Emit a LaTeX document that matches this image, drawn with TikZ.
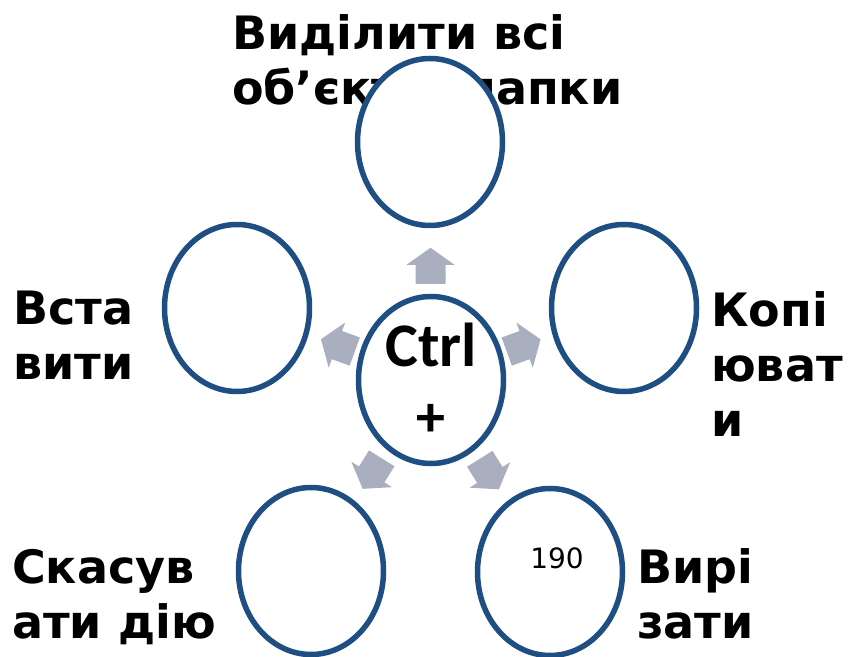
\documentclass[tikz,border=0pt]{standalone}
\usepackage{fontspec}
\setmainfont{DejaVu Sans}
\newfontfamily\keyfont{Carlito}
\usepackage{xcolor}
\definecolor{ringblue}{HTML}{1F4E82}
\definecolor{arrowgrey}{HTML}{A9AFBE}
\usetikzlibrary{shapes.geometric,calc}

\begin{document}
\begin{tikzpicture}[
  x=1pt, y=1pt,
  ring/.style={ellipse, draw=ringblue, line width=5.5pt, fill=white, inner sep=0pt, minimum width=145pt, minimum height=167pt},
  lbl/.style={font=\fontsize{46}{55}\selectfont\bfseries, align=left, inner sep=0pt, anchor=base west},
  blockarrow/.pic={\fill[arrowgrey] (-18,-15) -- (1,-15) -- (1,-24) -- (18,0) -- (1,24) -- (1,15) -- (-18,15) -- cycle;}
]
\useasboundingbox (0,0) rectangle (848,656);
% labels first, the rings lie on top of them (base = last line)
\node[lbl] (tselect) at (232,551) {Виділити всі\\об’єкти, папки};
\node[lbl] (tpaste) at (13,276) {Вста\\вити};
\node[lbl] (tcopy) at (711,219) {Копі\\юват\\и};
\node[lbl] (tundo) at (12,18) {Скасув\\ати дію};
\node[lbl] (tcut) at (637,18) {Вирі\\зати};

\node[ring] (ctr) at (431,276) {};
\node[ring] (top) at (430,514) {};
\node[ring] (left) at (237,348) {};
\node[ring] (right) at (624,348) {};
\node[ring] (bleft) at (311,85) {};
\node[ring] (bright) at (550,84) {};

\node[font=\keyfont\fontsize{62}{62}\selectfont\bfseries] (ctrl) at (431,311) {Ctrl};
\node[font=\keyfont\fontsize{58}{58}\selectfont\bfseries] (plus) at (431,236) {+};
\node[font=\fontsize{28}{28}\selectfont] (num) at (557,98) {190};

\pic[rotate=90] (aup) at ($(ctr)!0.48!(top)$) {blockarrow};
\pic[rotate=160] (aleft) at ($(ctr)!0.48!(left)$) {blockarrow};
\pic[rotate=20] (aright) at ($(ctr)!0.48!(right)$) {blockarrow};
\pic[rotate=238] (ableft) at ($(ctr)!0.49!(bleft)$) {blockarrow};
\pic[rotate=302] (abright) at ($(ctr)!0.49!(bright)$) {blockarrow};
\end{tikzpicture}
\end{document}
